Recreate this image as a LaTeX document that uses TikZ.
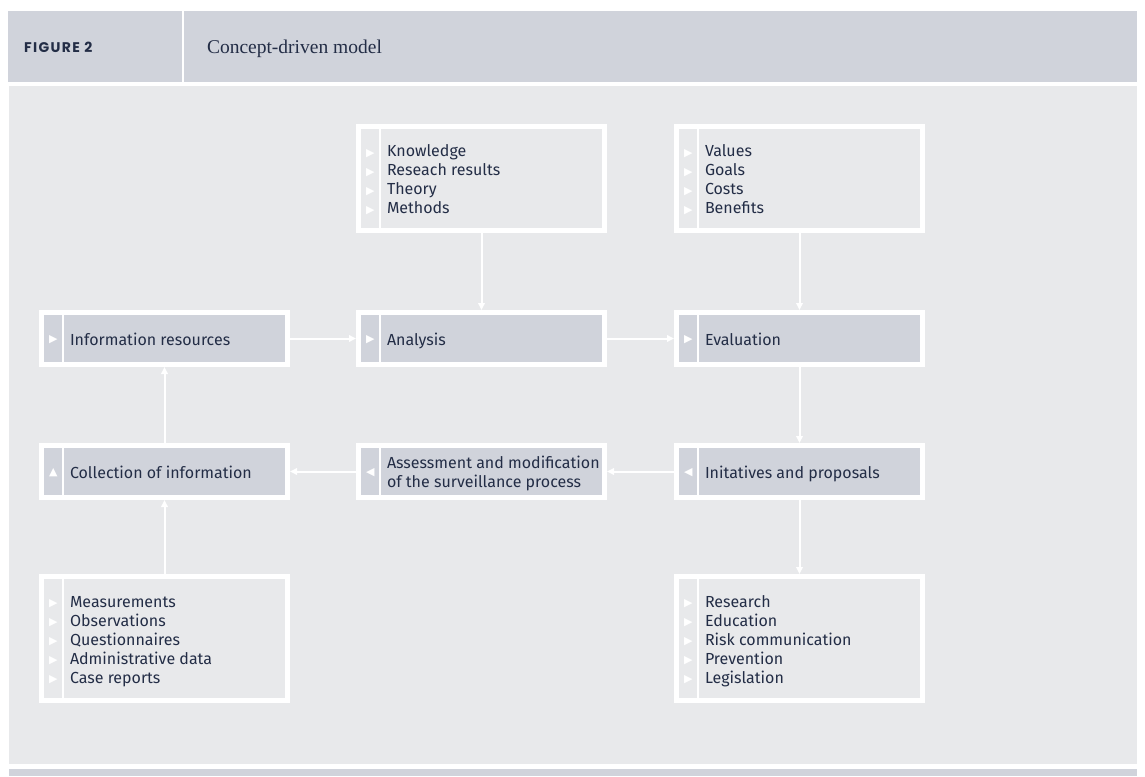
\documentclass[tikz,border=0pt]{standalone}
\usepackage{fontspec}
\usetikzlibrary{arrows.meta}
\newfontfamily\fira{Fira Sans}
\newfontfamily\symfont{DejaVu Sans}
\newfontfamily\figfont[LetterSpace=10]{Poppins}
\newfontfamily\titlefont{Liberation Serif}
\definecolor{hdr}{RGB}{208,211,219}
\definecolor{bodyc}{RGB}{232,233,235}
\definecolor{textc}{RGB}{35,45,70}
\newcommand\mkglyph[1]{\leavevmode\llap{{\symfont\fontsize{11}{11}\selectfont\color{white}\raisebox{0.5pt}{#1}}\hspace{12.5pt}}}
\newcommand\mkR{\mkglyph{▶}}
\newcommand\mkL{\mkglyph{◀}}
\newcommand\mkU{\mkglyph{▲}}
\newcommand\bt[2]{\hspace*{28.5pt}#1\parbox{217.5pt}{\raggedright\rule{0pt}{19pt}#2\strut}}
\begin{document}
\begin{tikzpicture}[x=1pt,y=-1pt,
  every node/.style={inner sep=0pt, outer sep=0pt},
  boxbase/.style={draw=white, line width=5pt, outer sep=2.5pt, minimum width=246pt,
    text=textc, font=\fira\fontsize{16}{19}\selectfont,
    path picture={\draw[white,line width=2pt]
      ([xshift=21.5pt]path picture bounding box.north west) --
      ([xshift=21.5pt]path picture bounding box.south west);}},
  flowbox/.style={boxbase, fill=hdr, minimum height=52pt},
  listbox/.style={boxbase, fill=bodyc},
  conn/.style={draw=white, line width=2pt, -{Triangle[length=7pt,width=6.5pt]}}
]
\useasboundingbox (0,0) rectangle (1145,776);
\fill[white] (0,0) rectangle (1145,776);
% header
\fill[hdr] (8,11) rectangle (1137,82);
\draw[white,line width=2pt] (183,11) -- (183,82);
\node[anchor=base west, text=textc, font=\figfont\bfseries\fontsize{14}{14}\selectfont] (figlabel) at (24,52.5) {FIGURE 2};
\node[anchor=base west, text=textc, font=\titlefont\fontsize{19.5}{19.5}\selectfont] (title) at (207,53) {Concept-driven model};
% body
\fill[bodyc] (9,86) rectangle (1137,764);
\fill[hdr] (9,769) rectangle (1137,776);

% boxes
\node[listbox, minimum height=104pt] (know) at (481.5,178.5)
  {\bt{}{\mkR Knowledge\\\mkR Reseach results\\\mkR Theory\\\mkR Methods}};
\node[listbox, minimum height=104pt] (vals) at (799.5,178.5)
  {\bt{}{\mkR Values\\\mkR Goals\\\mkR Costs\\\mkR Benefits}};
\node[flowbox] (info) at (164.5,338.5) {\bt{\mkR}{Information resources}};
\node[flowbox] (ana) at (481.5,338.5) {\bt{\mkR}{Analysis}};
\node[flowbox] (eval) at (799.5,338.5) {\bt{\mkR}{Evaluation}};
\node[flowbox] (coll) at (164.5,471.5) {\bt{\mkU}{Collection of information}};
\node[flowbox] (assess) at (481.5,471.5) {\bt{\mkL}{Assessment and modification\\of the surveillance process}};
\node[flowbox] (init) at (799.5,471.5) {\bt{\mkL}{Initatives and proposals}};
\node[listbox, minimum height=124pt] (meas) at (164.5,638.5)
  {\bt{}{\mkR Measurements\\\mkR Observations\\\mkR Questionnaires\\\mkR Administrative data\\\mkR Case reports}};
\node[listbox, minimum height=124pt] (res) at (799.5,638.5)
  {\bt{}{\mkR Research\\\mkR Education\\\mkR Risk communication\\\mkR Prevention\\\mkR Legislation}};

% connectors
\draw[conn] (know.south) -- (ana.north);
\draw[conn] (vals.south) -- (eval.north);
\draw[conn] (info.east) -- (ana.west);
\draw[conn] (ana.east) -- (eval.west);
\draw[conn] (eval.south) -- (init.north);
\draw[conn] (init.west) -- (assess.east);
\draw[conn] (assess.west) -- (coll.east);
\draw[conn] (coll.north) -- (info.south);
\draw[conn] (meas.north) -- (coll.south);
\draw[conn] (init.south) -- (res.north);
\end{tikzpicture}
\end{document}
